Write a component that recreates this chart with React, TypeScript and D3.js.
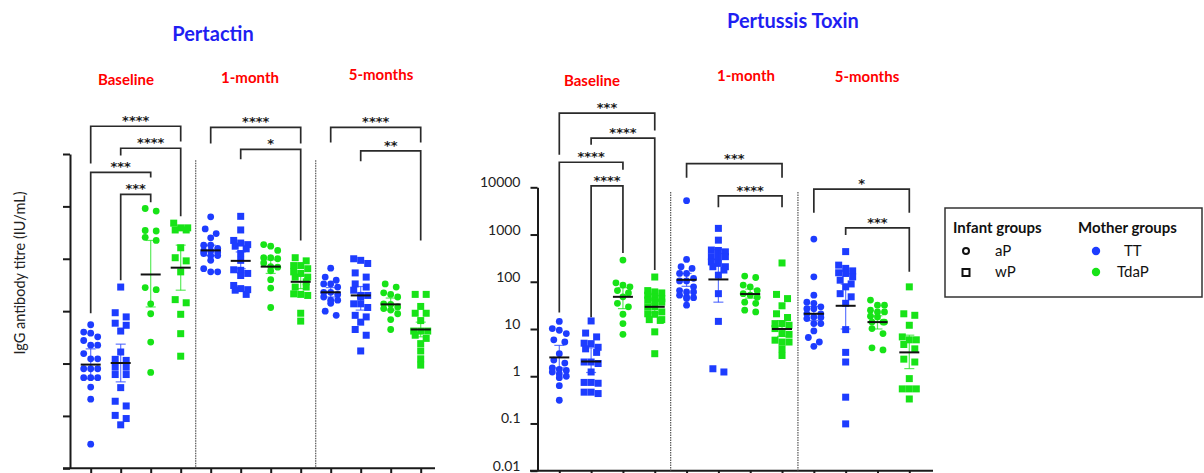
import { useEffect, useRef } from "react";
import * as d3 from "d3";

const WIDTH = 1204;
const HEIGHT = 473;
const FONT = "Lato, 'Open Sans', sans-serif";
const BLUE = "#1d3cff";
const GREEN = "#17e317";
const TITLE_BLUE = "#1f1ff2";

// column order inside every time point
const infantGroups = ["aP", "wP"];
const motherGroups = ["TT", "TdaP"];
const columnKeys = ["aP-TT", "wP-TT", "aP-TdaP", "wP-TdaP"];
const timepoints = ["Baseline", "1-month", "5-months"];

// ---------- Pertactin (unlabelled log axis, values in log10 units) ----------
const prnBaseAPTT = [2.74, 2.6, 2.58, 2.51, 2.44, 2.35, 2.35, 2.19, 2.09, 2.09, 1.9, 1.9, 1.9, 1.73, 1.73, 1.73, 1.55, 1.32, 0.46];
const prnBaseWPTT = [3.46, 2.97, 2.89, 2.77, 2.73, 2.62, 2.22, 2.08, 2.06, 1.93, 1.93, 1.79, 1.79, 1.54, 1.28, 1.19, 1.01, 0.95, 0.83];
const prnBaseAPTdaP = [4.96, 4.91, 4.54, 4.53, 4.41, 4.35, 3.45, 3.41, 3.14, 2.95, 2.41, 1.83];
const prnBaseWPTdaP = [4.68, 4.59, 4.59, 4.55, 4.55, 4.21, 4.02, 3.96, 3.75, 3.22, 3.16, 2.94, 2.57, 2.14];
const prn1mAPTT = [4.8, 4.57, 4.48, 4.4, 4.26, 4.26, 4.2, 4.15, 4.15, 4.13, 4.1, 4.06, 4.06, 3.97, 3.81, 3.75, 3.75];
const prn1mWPTT = [4.81, 4.55, 4.35, 4.3, 4.27, 4.24, 4.19, 4.1, 3.97, 3.79, 3.78, 3.72, 3.68, 3.49, 3.43, 3.41, 3.4, 3.32];
const prn1mAPTdaP = [4.27, 4.24, 4.16, 4.02, 4.02, 4.0, 3.92, 3.85, 3.84, 3.77, 3.6, 3.44, 3.07];
const prn1mWPTdaP = [4.02, 3.96, 3.87, 3.87, 3.81, 3.75, 3.72, 3.65, 3.65, 3.56, 3.46, 3.46, 3.33, 3.32, 3.3, 2.96, 2.81];
const prn5mAPTT = [3.82, 3.65, 3.59, 3.52, 3.52, 3.46, 3.36, 3.36, 3.32, 3.27, 3.21, 3.21, 3.15, 3.0, 2.92];
const prn5mWPTT = [4.0, 3.97, 3.91, 3.73, 3.65, 3.52, 3.46, 3.4, 3.3, 3.3, 3.27, 3.14, 3.14, 3.07, 2.92, 2.89, 2.79, 2.65, 2.54, 2.24];
const prn5mAPTdaP = [3.52, 3.46, 3.35, 3.32, 3.27, 3.14, 3.13, 3.08, 3.05, 3.02, 2.95, 2.84, 2.65];
const prn5mWPTdaP = [3.32, 3.32, 3.09, 2.96, 2.96, 2.82, 2.62, 2.62, 2.62, 2.54, 2.48, 2.38, 2.24, 2.09, 1.97];
const prnGM = [1.98, 2.01, 3.7, 3.83, 4.16, 3.96, 3.85, 3.56, 3.36, 3.3, 3.13, 2.65];
const prnLo = [1.71, 1.65, 3.08, 3.4, 4.06, 3.81, 3.72, 3.43, 3.27, 3.02, 3.02, 2.51];
const prnHi = [2.28, 2.37, 4.35, 4.26, 4.26, 4.13, 3.98, 3.68, 3.45, 3.47, 3.25, 2.79];
const prnTicks = [0, 1, 2, 3, 4, 5, 6];

// ---------- Pertussis toxin (IU/mL) ----------
const ptBaseAPTT = [14.5, 10.2, 9.4, 8.0, 5.9, 5.3, 3.0, 2.2, 1.9, 1.5, 1.4, 1.33, 1.23, 1.12, 1.0, 0.93, 0.63, 0.31];
const ptBaseWPTT = [14.8, 8.2, 6.8, 5.0, 4.9, 4.1, 3.8, 3.2, 2.0, 2.0, 1.86, 1.23, 0.74, 0.74, 0.71, 0.46, 0.46, 0.43];
const ptBaseAPTdaP = [288, 95, 85, 78, 65, 58, 48, 35, 29.5, 20.5, 13, 7.7];
const ptBaseWPTdaP = [126, 65, 61, 58, 52, 48, 44, 41, 39, 37, 29.5, 29.5, 23, 21, 20.5, 15.8, 15.8, 15.2, 8.7, 3.0];
const pt1mAPTT = [5200, 297, 208, 192, 150, 150, 118, 104, 104, 78, 65, 61, 61, 52, 48, 46, 44, 32];
const pt1mWPTT = [1350, 760, 470, 460, 430, 340, 340, 340, 263, 245, 208, 208, 177, 138, 56, 14.5, 1.44, 1.23];
const pt1mAPTdaP = [132, 123, 85, 78, 65, 56, 52, 47, 37, 35, 25, 23];
const pt1mWPTdaP = [250, 54, 44, 31, 21, 17.5, 13, 13, 12, 10.2, 8.0, 7.7, 5.8, 5.3, 5.3, 3.8, 2.75];
const pt5mAPTT = [800, 127, 52, 37, 35, 29.5, 27, 27, 21, 21, 18, 17.5, 16.6, 13, 13, 9.1, 6.6, 5.3, 4.3];
const pt5mWPTT = [435, 225, 192, 170, 155, 150, 127, 108, 90, 78, 56, 48, 35, 9.7, 3.2, 2.0, 0.36, 0.098];
const pt5mAPTdaP = [41, 32, 32, 25, 23, 23, 18.6, 18, 14, 14, 14, 10.2, 8, 4.0, 3.6];
const pt5mWPTdaP = [78, 21, 19.5, 12, 6.8, 5.9, 5.9, 4.7, 3.8, 2.3, 2.0, 0.89, 0.54, 0.54, 0.54, 0.33];
const ptGM = [2.5, 2.05, 48, 29.5, 110, 112, 55, 10, 21, 31, 14, 3.2];
const ptLo = [1.5, 1.2, 27, 22, 80, 37, 45, 7, 15, 10, 10, 1.45];
const ptHi = [4.5, 4.0, 75, 40, 150, 480, 70, 15, 30, 89, 19, 7.4];
const ptTicks = [0.01, 0.1, 1, 10, 100, 1000, 10000];
const ptTickLabels = ["0.01", "0.1", "1", "10", "100", "1000", "10000"];

// significance brackets (levels in the axis units; PT levels are log10 exponents)
const prnBrackets = [
  { from: 0, to: 3, level: 6.53, leftEnd: 5.82, rightEnd: 6.24, label: "****" },
  { from: 1, to: 3, level: 6.11, leftEnd: 5.97, rightEnd: 4.81, label: "****" },
  { from: 0, to: 2, level: 5.65, leftEnd: 2.96, rightEnd: 5.55, label: "***" },
  { from: 1, to: 2, level: 5.23, leftEnd: 3.59, rightEnd: 5.08, label: "***" },
  { from: 4, to: 7, level: 6.51, leftEnd: 6.2, rightEnd: 6.2, label: "****" },
  { from: 5, to: 7, level: 6.09, leftEnd: 5.9, rightEnd: 4.35, label: "*" },
  { from: 8, to: 11, level: 6.51, leftEnd: 6.22, rightEnd: 6.22, label: "****" },
  { from: 9, to: 11, level: 6.06, leftEnd: 5.86, rightEnd: 4.35, label: "**" },
];
const ptBrackets = [
  { from: 0, to: 3, level: 5.57, leftEnd: 4.69, rightEnd: 5.2, label: "***" },
  { from: 1, to: 3, level: 5.04, leftEnd: 4.9, rightEnd: 2.25, label: "****" },
  { from: 0, to: 2, level: 4.53, leftEnd: 1.35, rightEnd: 4.37, label: "****" },
  { from: 1, to: 2, level: 4.03, leftEnd: 1.25, rightEnd: 2.61, label: "****" },
  { from: 4, to: 7, level: 4.5, leftEnd: 4.2, rightEnd: 4.2, label: "***" },
  { from: 5, to: 7, level: 3.82, leftEnd: 3.58, rightEnd: 3.58, label: "****" },
  { from: 8, to: 11, level: 3.96, leftEnd: 3.46, rightEnd: 3.46, label: "*" },
  { from: 9, to: 11, level: 3.14, leftEnd: 2.99, rightEnd: 2.21, label: "***" },
];

const prnColumns = [
  prnBaseAPTT, prnBaseWPTT, prnBaseAPTdaP, prnBaseWPTdaP,
  prn1mAPTT, prn1mWPTT, prn1mAPTdaP, prn1mWPTdaP,
  prn5mAPTT, prn5mWPTT, prn5mAPTdaP, prn5mWPTdaP,
];
const ptColumns = [
  ptBaseAPTT, ptBaseWPTT, ptBaseAPTdaP, ptBaseWPTdaP,
  pt1mAPTT, pt1mWPTT, pt1mAPTdaP, pt1mWPTdaP,
  pt5mAPTT, pt5mWPTT, pt5mAPTdaP, pt5mWPTdaP,
];

// spread overlapping points sideways, GraphPad style rows of up to 3
function swarm(ys: number[]) {
  const order = ys.map((_, i) => i).sort((a, b) => ys[a] - ys[b]);
  const off = ys.map(() => 0);
  let row: number[] = [];
  const flush = () => {
    const step = row.length === 2 ? 11 : 7;
    row.forEach((id, k) => (off[id] = (k - (row.length - 1) / 2) * step));
    row = [];
  };
  order.forEach((i) => {
    if (row.length && (ys[i] - ys[row[0]] >= 6 || row.length >= 3)) flush();
    row.push(i);
  });
  flush();
  return off;
}

function drawPanel(
  g: d3.Selection<SVGGElement, unknown, null, undefined>,
  opts: any
) {
  const { x, y, columns, gm, lo, hi, brackets, toY, axisX, axisBottom, xStart, xEnd, sepTop, ticks, tickLabels } = opts;

  // y axis
  const yAxis = d3
    .axisLeft(y)
    .tickValues(ticks)
    .tickSize(7)
    .tickSizeOuter(0)
    .tickPadding(10)
    .tickFormat((d: any, i: number) => (tickLabels ? tickLabels[i] : ""));
  const ya = g.append("g").attr("transform", `translate(${axisX},0)`).call(yAxis as any);
  ya.selectAll("path, line").attr("stroke", "#1a1a1a").attr("stroke-width", 2);
  ya.selectAll("text")
    .attr("y", -5)
    .attr("font-family", FONT).attr("font-size", 14).attr("fill", "#222");

  // x axis
  g.append("line")
    .attr("x1", xStart).attr("x2", xEnd)
    .attr("y1", axisBottom).attr("y2", axisBottom)
    .attr("stroke", "#1a1a1a").attr("stroke-width", 2);
  const xAxis = d3.axisBottom(x).tickSize(10).tickSizeOuter(0).tickFormat(() => "");
  const xa = g.append("g").attr("transform", `translate(0,${axisBottom})`).call(xAxis as any);
  xa.select(".domain").remove();
  xa.selectAll("line").attr("stroke", "#1a1a1a").attr("stroke-width", 2);

  // dotted separators between time points
  [3, 7].forEach((c) => {
    const sx = (x(c)! + x(c + 1)!) / 2;
    g.append("line")
      .attr("x1", sx).attr("x2", sx)
      .attr("y1", y(sepTop)).attr("y2", axisBottom)
      .attr("stroke", "#555").attr("stroke-width", 1.2)
      .attr("stroke-dasharray", "1.5,1");
  });

  // points
  columns.forEach((vals: number[], c: number) => {
    const key = columnKeys[c % 4];
    const color = key.endsWith("TdaP") ? GREEN : BLUE;
    const square = key.startsWith("wP");
    const ys = vals.map((v) => y(v));
    const off = swarm(ys);
    const cx = x(c)!;
    vals.forEach((_, i) => {
      if (square) {
        g.append("rect")
          .attr("x", cx + off[i] - 3.5).attr("y", ys[i] - 3.5)
          .attr("width", 7).attr("height", 7)
          .attr("fill", color);
      } else {
        g.append("circle")
          .attr("cx", cx + off[i]).attr("cy", ys[i]).attr("r", 3.4)
          .attr("fill", color);
      }
    });
    // error bar + geometric mean
    g.append("line")
      .attr("x1", cx).attr("x2", cx)
      .attr("y1", y(lo[c])).attr("y2", y(hi[c]))
      .attr("stroke", color).attr("stroke-opacity", 0.7).attr("stroke-width", 1.2);
    [lo[c], hi[c]].forEach((v) =>
      g.append("line")
        .attr("x1", cx - 5).attr("x2", cx + 5)
        .attr("y1", y(v)).attr("y2", y(v))
        .attr("stroke", color).attr("stroke-opacity", 0.7).attr("stroke-width", 1.2)
    );
    g.append("line")
      .attr("x1", cx - 10).attr("x2", cx + 10)
      .attr("y1", y(gm[c])).attr("y2", y(gm[c]))
      .attr("stroke", "#111").attr("stroke-width", 2);
  });

  // significance brackets
  brackets.forEach((b: any) => {
    const x1 = x(b.from)!;
    const x2 = x(b.to)!;
    const yl = y(toY(b.level));
    g.append("path")
      .attr("d", `M${x1},${y(toY(b.leftEnd))}V${yl}H${x2}V${y(toY(b.rightEnd))}`)
      .attr("fill", "none").attr("stroke", "#2a2a2a").attr("stroke-width", 1.7);
    g.append("text")
      .attr("x", (x1 + x2) / 2).attr("y", yl - 1)
      .attr("text-anchor", "middle")
      .attr("font-family", "'DejaVu Sans', sans-serif")
      .attr("font-weight", "bold")
      .attr("font-size", 13).attr("fill", "#1a1a1a")
      .text(b.label);
  });
}

const App = () => {
  const ref = useRef<SVGGElement | null>(null);

  useEffect(() => {
    const root = d3.select(ref.current);
    root.selectAll("*").remove();

    const idx = d3.range(12);

    // Pertactin
    const prnX = d3.scalePoint<number>().domain(idx).range([90.7, 420.7]);
    const prnY = d3.scaleLinear().domain([0, 6]).range([468.3, 154]);
    drawPanel(root.append("g"), {
      x: prnX, y: prnY, columns: prnColumns, gm: prnGM, lo: prnLo, hi: prnHi,
      brackets: prnBrackets, toY: (v: number) => v,
      axisX: 70, axisBottom: 468.3, xStart: 63, xEnd: 435, sepTop: 5.88,
      ticks: prnTicks, tickLabels: null,
    });

    // Pertussis toxin
    const ptX = d3.scalePoint<number>().domain(idx).range([559.3, 909.3]);
    const ptY = d3.scaleLog().domain([0.01, 10000]).range([470.7, 187.3]);
    drawPanel(root.append("g"), {
      x: ptX, y: ptY, columns: ptColumns, gm: ptGM, lo: ptLo, hi: ptHi,
      brackets: ptBrackets, toY: (e: number) => Math.pow(10, e),
      axisX: 537.5, axisBottom: 470.7, xStart: 530, xEnd: 933, sepTop: 8000,
      ticks: ptTicks, tickLabels: ptTickLabels,
    });
  }, []);

  const groupLabels = [
    { x: 126, y: 85 }, { x: 250, y: 83 }, { x: 381, y: 80 },
    { x: 592, y: 86 }, { x: 746, y: 81 }, { x: 867, y: 82 },
  ];

  return (
    <svg
      width={WIDTH}
      height={HEIGHT}
      style={{ position: "absolute", left: 0, top: 0, background: "#fff" }}
    >
      <text x={213} y={41} textAnchor="middle" fontFamily={FONT} fontWeight="bold" fontSize={20} fill={TITLE_BLUE}>
        Pertactin
      </text>
      <text x={727} y={28} fontFamily={FONT} fontWeight="bold" fontSize={20} fill={TITLE_BLUE}>
        Pertussis Toxin
      </text>
      {groupLabels.map((p, i) => (
        <text key={i} x={p.x} y={p.y} textAnchor="middle" fontFamily={FONT} fontWeight="bold" fontSize={15} fill="#ff0000">
          {timepoints[i % 3]}
        </text>
      ))}
      <text
        transform="translate(25,273) rotate(-90)"
        textAnchor="middle"
        fontFamily={FONT}
        fontSize={14.5}
        fill="#222"
      >
        IgG antibody titre (IU/mL)
      </text>
      <g ref={ref} />

      {/* legend */}
      <g fontFamily={FONT} fontSize={15} fill="#111">
        <rect x={945} y={208} width={257} height={89} fill="#fff" stroke="#333" strokeWidth={1.5} />
        <text x={953} y={233} fontWeight="bold">Infant groups</text>
        <text x={1078} y={233} fontWeight="bold">Mother groups</text>
        <circle cx={966} cy={251} r={3} fill="none" stroke="#111" strokeWidth={2} />
        <rect x={962.5} y={269} width={7} height={7} fill="none" stroke="#111" strokeWidth={2} />
        <text x={995} y={256}>{infantGroups[0]}</text>
        <text x={995} y={277}>{infantGroups[1]}</text>
        <circle cx={1096} cy={251} r={4.2} fill={BLUE} />
        <circle cx={1096} cy={272} r={4.2} fill={GREEN} />
        <text x={1124} y={256}>{motherGroups[0]}</text>
        <text x={1117} y={277}>{motherGroups[1]}</text>
      </g>
    </svg>
  );
};

export default App;
